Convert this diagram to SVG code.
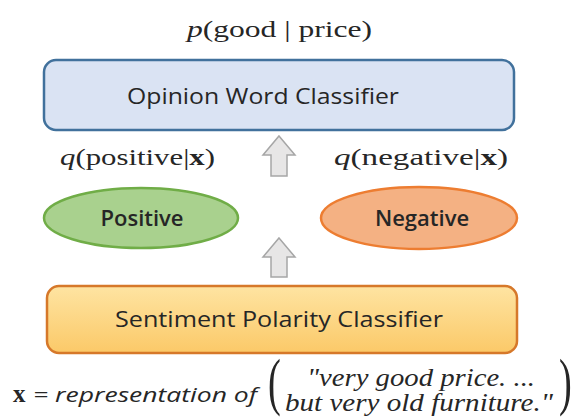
<svg xmlns="http://www.w3.org/2000/svg" width="575" height="417" viewBox="0 0 575 417">
<defs>
<style>
.serif{font-family:"Liberation Serif","DejaVu Serif",serif;fill:#262626}
.sans{font-family:"Open Sans","Noto Sans",sans-serif;fill:#262626}
.arrow{fill:#e7e6e6;stroke:#a6a6a6;stroke-width:1.5}
</style>
<linearGradient id="gOrange" x1="0" y1="0" x2="0" y2="1">
<stop offset="0" stop-color="#fee4a2"/><stop offset="1" stop-color="#fbc968"/>
</linearGradient>
</defs>
<rect width="575" height="417" fill="#ffffff"/>
<text class="serif" x="187" y="37" font-size="24" textLength="185" lengthAdjust="spacingAndGlyphs"><tspan font-style="italic">p</tspan>(good | price)</text>
<g id="opinion">
<rect x="44" y="60" width="470" height="70" rx="12" fill="#dae3f3" stroke="#41719c" stroke-width="2.5"/>
<text class="sans" x="127" y="104" font-size="22" textLength="272" lengthAdjust="spacingAndGlyphs">Opinion Word Classifier</text>
</g>
<text class="serif" x="60" y="165" font-size="23" textLength="155" lengthAdjust="spacingAndGlyphs"><tspan font-style="italic">q</tspan>(positive|<tspan font-weight="bold">x</tspan>)</text>
<text class="serif" x="334" y="165" font-size="23" textLength="174" lengthAdjust="spacingAndGlyphs"><tspan font-style="italic">q</tspan>(negative|<tspan font-weight="bold">x</tspan>)</text>
<g id="positive">
<ellipse cx="141" cy="218" rx="97" ry="30" fill="#a9d18e" stroke="#70ad47" stroke-width="2.5"/>
<text class="sans" x="142" y="226" font-size="22" font-weight="600" text-anchor="middle">Positive</text>
</g>
<g id="negative">
<ellipse cx="419" cy="218" rx="98" ry="31" fill="#f4b183" stroke="#ed7d31" stroke-width="2.5"/>
<text class="sans" x="422" y="226" font-size="22" font-weight="600" text-anchor="middle">Negative</text>
</g>
<g id="sentiment">
<rect x="47" y="286" width="470" height="67" rx="12" fill="url(#gOrange)" stroke="#d6782a" stroke-width="2.5"/>
<text class="sans" x="115" y="327" font-size="22" textLength="328" lengthAdjust="spacingAndGlyphs">Sentiment Polarity Classifier</text>
</g>
<g id="connectors">
<path class="arrow" d="M279,136 L295,155 L287,155 L287,176 L271,176 L271,155 L263,155 Z"/>
<path class="arrow" d="M279,238 L295,257 L287,257 L287,277 L271,277 L271,257 L263,257 Z"/>
</g>
<g id="caption">
<text class="serif" x="13" y="402" font-size="25" font-weight="bold" fill="#111">x</text>
<text class="sans" x="33" y="402" font-size="20" font-style="italic" fill="#111" textLength="224" lengthAdjust="spacingAndGlyphs">= representation of</text>
<text class="serif" font-size="64" fill="#111" transform="translate(268,403) scale(0.6,1)">(</text>
<text class="serif" font-size="64" fill="#111" transform="translate(559,403) scale(0.6,1)">)</text>
<text class="serif" x="307" y="386" font-size="25" font-style="italic" fill="#111" textLength="228" lengthAdjust="spacingAndGlyphs">"very good price. ...</text>
<text class="serif" x="285" y="411" font-size="25" font-style="italic" fill="#111" textLength="268" lengthAdjust="spacingAndGlyphs">but very old furniture."</text>
</g>
</svg>
